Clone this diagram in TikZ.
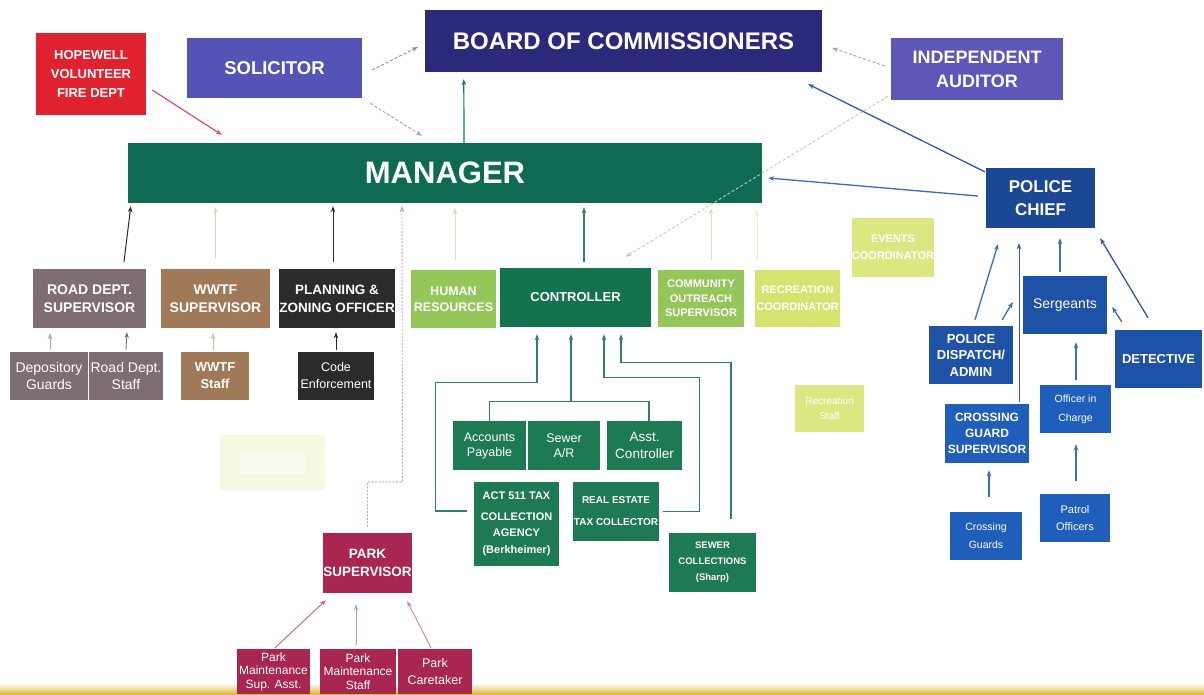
\documentclass[tikz,border=0pt]{standalone}
\usepackage{fontspec}
\setmainfont{Liberation Sans}
\usetikzlibrary{arrows.meta,calc}

% palette
\definecolor{fireRed}{HTML}{E0222E}
\definecolor{solBlue}{HTML}{5553B6}
\definecolor{boardNavy}{HTML}{2B2A7A}
\definecolor{audBlue}{HTML}{5C57B8}
\definecolor{mgrGreen}{HTML}{0E6A52}
\definecolor{ctrlGreen}{HTML}{12734D}
\definecolor{subGreen}{HTML}{1E7A52}
\definecolor{lightGreen}{HTML}{95C65A}
\definecolor{paleYellow}{HTML}{D6E36E}
\definecolor{fadedYellow}{HTML}{DCE782}
\definecolor{roadGrey}{HTML}{7F6D74}
\definecolor{wwtfBrown}{HTML}{A07A58}
\definecolor{planBlack}{HTML}{2B2B2B}
\definecolor{parkRed}{HTML}{A8264F}
\definecolor{polNavy}{HTML}{1B4894}
\definecolor{polBlue}{HTML}{1D52A6}
\definecolor{polBright}{HTML}{1F5EBA}
\definecolor{tealLine}{HTML}{2E7F6E}
\definecolor{blueLine}{HTML}{3C6CB8}
\definecolor{stripGold}{HTML}{E0B83C}

\newcommand\setfs[2]{\fontsize{#1}{#2}\selectfont}

\tikzset{
  box/.style={rectangle, inner sep=0pt, align=center, text=white},
  tip/.style={-{Stealth[length=6pt,width=4.5pt]}},
  teal/.style={tip, draw=tealLine, line width=1.2pt},
  blk/.style={tip, draw=planBlack, line width=1pt},
  bl/.style={tip, draw=blueLine, line width=1.3pt},
  pk/.style={tip, draw=parkRed!70, line width=0.9pt},
  faint/.style={tip, draw=#1, line width=0.6pt},
  dsh/.style={tip, draw=#1, line width=0.9pt, dash pattern=on 3pt off 2pt},
}

\begin{document}
\begin{tikzpicture}[x=1pt,y=-1pt]
\clip (0,0) rectangle (1204,694);
\fill[white] (0,0) rectangle (1204,694);
% gold strip along the lower edge
\shade[top color=white, bottom color=stripGold] (0,683) rectangle (1204,694);

% ---- top level ----
\node[box, fill=fireRed, minimum width=110pt, minimum height=82pt,
  font=\bfseries\setfs{13}{19}] (fire) at (91,74) {HOPEWELL\\VOLUNTEER\\FIRE DEPT};
\node[box, fill=solBlue, minimum width=175pt, minimum height=60pt,
  font=\bfseries\setfs{18.5}{20}] (sol) at (274.5,68) {SOLICITOR};
\node[box, fill=boardNavy, minimum width=397pt, minimum height=62pt,
  font=\bfseries\setfs{24}{26}] (board) at (623.5,41) {BOARD OF COMMISSIONERS};
\node[box, fill=audBlue, minimum width=172pt, minimum height=62pt,
  font=\bfseries\setfs{18}{24}] (aud) at (977,69) {INDEPENDENT\\AUDITOR};
\node[box, fill=mgrGreen, minimum width=634pt, minimum height=60pt,
  font=\bfseries\setfs{31}{33}] (mgr) at (445,173) {MANAGER};
\node[box, fill=polNavy, minimum width=109pt, minimum height=60pt,
  font=\bfseries\setfs{17}{23}] (chief) at (1040.5,198) {POLICE\\CHIEF};

% ---- departments ----
\node[box, fill=roadGrey, minimum width=113pt, minimum height=59pt,
  font=\bfseries\setfs{14}{18}] (road) at (89.5,298.5) {ROAD DEPT.\\SUPERVISOR};
\node[box, fill=wwtfBrown, minimum width=109pt, minimum height=59pt,
  font=\bfseries\setfs{14}{18}] (wwtf) at (215.5,298.5) {WWTF\\SUPERVISOR};
\node[box, fill=planBlack, minimum width=116pt, minimum height=59pt,
  font=\bfseries\setfs{13.5}{18}] (plan) at (337,298.5) {PLANNING \&\\ZONING OFFICER};
\node[box, fill=lightGreen, minimum width=85pt, minimum height=58pt,
  font=\bfseries\setfs{12.5}{16}] (hr) at (453.5,299) {HUMAN\\RESOURCES};
\node[box, fill=ctrlGreen, minimum width=151pt, minimum height=59pt,
  font=\bfseries\setfs{13}{15}] (ctrl) at (575.5,297.5) {CONTROLLER};
\node[box, fill=lightGreen, minimum width=86pt, minimum height=57pt,
  font=\bfseries\setfs{11}{14.5}] (comm) at (701,298.5) {COMMUNITY\\OUTREACH\\SUPERVISOR};
\node[box, fill=paleYellow, minimum width=85pt, minimum height=57pt,
  font=\bfseries\setfs{11}{17}] (rec) at (797.5,298.5) {RECREATION\\COORDINATOR};
\node[box, fill=fadedYellow, minimum width=82pt, minimum height=59pt,
  font=\bfseries\setfs{11}{17}] (events) at (893,247.5) {EVENTS\\COORDINATOR};
\node[box, fill=fadedYellow, minimum width=69pt, minimum height=47pt,
  font=\setfs{10}{15}] (recstaff) at (829.5,408.5) {Recreation\\Staff};

% ---- staff under departments ----
\node[box, fill=roadGrey, minimum width=78pt, minimum height=48pt,
  font=\setfs{14}{17}] (dep) at (49,376) {Depository\\Guards};
\node[box, fill=roadGrey, minimum width=74pt, minimum height=48pt,
  font=\setfs{14}{17}] (rds) at (126,376) {Road Dept.\\Staff};
\node[box, fill=wwtfBrown, minimum width=68pt, minimum height=48pt,
  font=\bfseries\setfs{13}{17}] (wstaff) at (215,376) {WWTF\\Staff};
\node[box, fill=planBlack, minimum width=76pt, minimum height=48pt,
  font=\setfs{12.5}{17}] (code) at (336,376) {Code\\Enforcement};

% pale blank panel
\fill[fadedYellow!25] (220,435) rectangle (325,490);
\fill[white!70!fadedYellow!40] (240,452) rectangle (305,474);

% ---- controller staff ----
\node[box, fill=subGreen, minimum width=73pt, minimum height=49pt,
  font=\setfs{12.5}{15}] (ap) at (489.5,445.5) {Accounts\\Payable};
\node[box, fill=subGreen, minimum width=72pt, minimum height=49pt,
  font=\setfs{12.5}{15}] (sar) at (564,445.5) {Sewer\\A/R};
\node[box, fill=subGreen, minimum width=75pt, minimum height=49pt,
  font=\setfs{13.5}{17}] (asst) at (644.5,445.5) {Asst.\\Controller};
\node[box, fill=subGreen, minimum width=85pt, minimum height=84pt,
  font=\bfseries\setfs{11}{16.5}] (act) at (516.5,524)
  {ACT 511 TAX\\[4pt]COLLECTION\\AGENCY\\(Berkheimer)};
\node[box, fill=subGreen, minimum width=86pt, minimum height=59pt,
  font=\bfseries\setfs{10}{22}] (re) at (616,511.5) {REAL ESTATE\\TAX COLLECTOR};
\node[box, fill=subGreen, minimum width=87pt, minimum height=59pt,
  font=\bfseries\setfs{9.5}{16}] (sc) at (712.5,562.5) {SEWER\\COLLECTIONS\\(Sharp)};

% ---- parks ----
\node[box, fill=parkRed, minimum width=89pt, minimum height=60pt,
  font=\bfseries\setfs{13.5}{18}] (park) at (367.5,563) {PARK\\SUPERVISOR};
\node[box, fill=parkRed, minimum width=73pt, minimum height=45pt,
  font=\setfs{12}{13.5}] (pma) at (273.5,671.5) {Park\\Maintenance\\Sup. Asst.};
\node[box, fill=parkRed, minimum width=76pt, minimum height=45pt,
  font=\setfs{12}{13.5}] (pms) at (358,671.5) {Park\\Maintenance\\Staff};
\node[box, fill=parkRed, minimum width=74pt, minimum height=45pt,
  font=\setfs{12.5}{17}] (pc) at (435,671.5) {Park\\Caretaker};

% ---- police ----
\node[box, fill=polBlue, minimum width=84pt, minimum height=58pt,
  font=\bfseries\setfs{13}{16.5}] (disp) at (971,355) {POLICE\\DISPATCH/\\ADMIN};
\node[box, fill=polBlue, minimum width=84pt, minimum height=58pt,
  font=\setfs{14}{16}] (sgt) at (1065,305) {Sergeants};
\node[box, fill=polBlue, minimum width=87pt, minimum height=58pt,
  font=\bfseries\setfs{13}{15}] (det) at (1158.5,359) {DETECTIVE};
\node[box, fill=polBright, minimum width=84pt, minimum height=59pt,
  font=\bfseries\setfs{12}{16}] (cgs) at (987,433.5) {CROSSING\\GUARD\\SUPERVISOR};
\node[box, fill=polBright, minimum width=71pt, minimum height=48pt,
  font=\setfs{10.5}{19}] (oic) at (1075.5,409) {Officer in\\Charge};
\node[box, fill=polBright, minimum width=72pt, minimum height=48pt,
  font=\setfs{10.5}{18}] (cg) at (986,536) {Crossing\\Guards};
\node[box, fill=polBright, minimum width=70pt, minimum height=48pt,
  font=\setfs{11}{17}] (po) at (1075,518) {Patrol\\Officers};

% ---- links to the board ----
\draw[dsh=solBlue!70] ($(sol.east)+(10,2)$) -- ($(board.west)+(-7,6)$);
\draw[dsh=solBlue!55] ($(sol.south east)+(8,5)$) -- ($(mgr.north)+(-23,-7)$);
\draw[tip, draw=fireRed!80, line width=1.2pt] ($(fire.east)+(6,16)$) -- ($(mgr.north west)+(94,-8)$);
\draw[teal, draw=tealLine!80!blue] ($(mgr.north)+(19,0)$) -- ($(board.south west)+(39,7)$);
\draw[dsh=gray!70] ($(aud.west)+(-6,-3)$) -- ($(board.east)+(10,7)$);
\draw[dsh=gray!45] ($(aud.south west)+(-3,-4)$) -- ($(ctrl.north)+(50,-11)$);
\draw[bl, draw=polNavy!90] ($(chief.north west)+(-1,4)$) -- ($(board.south east)+(-14,12)$);
\draw[bl] ($(chief.west)+(-8,-2)$) -- ($(mgr.east)+(6,5)$);

% ---- links to the manager ----
\draw[blk] ($(road.north)+(34.5,-7)$) -- ($(mgr.south west)+(3,3)$);
\draw[faint=wwtfBrown!35] ($(wwtf.north)+(0,-11)$) -- ($(wwtf.north |- mgr.south)+(0,4)$);
\draw[blk] ($(plan.north)+(-4,-7)$) -- ($(plan.north |- mgr.south)+(-4,3)$);
\draw[tip, draw=parkRed!45, line width=0.9pt, dash pattern=on 2pt off 1.5pt]
  ($(park.north)+(0,-6)$) -- ++(0,-45) -- ++(35,0) -- ($(mgr.south)+(-43,3)$);
\draw[faint=lightGreen!45] ($(hr.north)+(1.5,-10)$) -- ($(hr.north |- mgr.south)+(1.5,5)$);
\draw[teal] ($(ctrl.north)+(8.5,-6)$) -- ($(ctrl.north |- mgr.south)+(8.5,4)$);
\draw[faint=lightGreen!45] ($(comm.north)+(10,-10)$) -- ($(comm.north |- mgr.south)+(10,5)$);
\draw[faint=paleYellow!45] ($(rec.north west)+(2,-10)$) -- ($(rec.north west |- mgr.south)+(2,7)$);

% ---- controller staff links ----
\draw[teal] ($(act.west)+(-7,-13)$) -- ++(-31,0) |- ($(ctrl.south)+(-38.5,55)$) -- ($(ctrl.south)+(-38.5,7)$);
\draw[draw=tealLine, line width=1.2pt] (ap.north) |- ($(asst.north)+(4.5,-19)$) -- ($(asst.north)+(4.5,0)$);
\draw[teal] ($(sar.north)+(7,-19)$) -- ($(ctrl.south)+(-4.5,7)$);
\draw[teal] ($(re.east)+(4,0)$) -- ++(36,0) |- ($(ctrl.south)+(28.5,50)$) -- ($(ctrl.south)+(28.5,7)$);
\draw[teal] ($(sc.north)+(18.5,-14)$) |- ($(ctrl.south)+(45.5,35)$) -- ($(ctrl.south)+(45.5,7)$);

% ---- department staff links ----
\draw[faint=roadGrey!60] ($(dep.north)+(1,-2)$) -- ($(road.south)+(-39.5,5)$);
\draw[tip, draw=roadGrey, line width=0.8pt] ($(rds.north)+(0,-2)$) -- ($(road.south)+(37.5,4)$);
\draw[faint=wwtfBrown!50] ($(wstaff.north)+(-2,-2)$) -- ($(wwtf.south)+(-2.5,5)$);
\draw[blk, line width=0.8pt] ($(code.north)+(0,-2)$) -- ($(plan.south)+(-1,4)$);

% ---- park links ----
\draw[pk] ($(pma.north)+(1.5,-1)$) -- ($(park.south west)+(3,7)$);
\draw[pk, draw=parkRed!50] ($(pms.north)+(-2,-4)$) -- ($(park.south)+(-11.5,11)$);
\draw[pk, draw=parkRed!55] ($(pc.north)+(-4,-1)$) -- ($(park.south east)+(-5,8)$);

% ---- police links ----
\draw[bl] ($(disp.north)+(4,-6)$) -- ($(chief.south)+(-42.5,16)$);
\draw[tip, draw=polNavy!70!gray, line width=1pt] ($(cgs.north)+(32,-2)$) -- ($(chief.south)+(-21.5,15)$);
\draw[bl] ($(disp.north east)+(-11,-6)$) -- ($(sgt.west)+(-10,-3)$);
\draw[bl] ($(sgt.north)+(-5,-4)$) -- ($(chief.south)+(19.5,10)$);
\draw[bl, draw=polNavy!70!gray] ($(det.north)+(-10.5,-12)$) -- ($(chief.south east)+(5,10)$);
\draw[bl] ($(det.north west)+(7,-8)$) -- ($(sgt.east)+(5,2)$);
\draw[bl] ($(oic.north)+(0.5,-5)$) -- ($(sgt.south)+(11,8)$);
\draw[bl] ($(cg.north)+(3,-15)$) -- ($(cgs.south)+(2,7)$);
\draw[bl] ($(po.north)+(1,-13)$) -- ($(oic.south)+(0.5,11)$);
\end{tikzpicture}
\end{document}
